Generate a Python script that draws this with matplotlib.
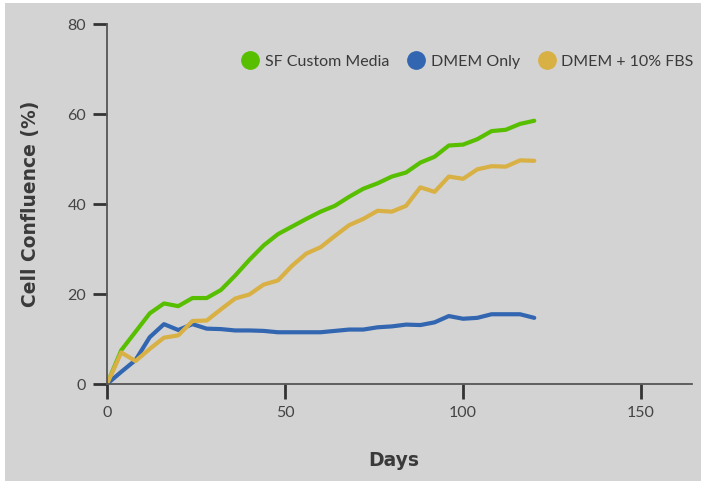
import matplotlib.pyplot as plt
from matplotlib.lines import Line2D
from matplotlib.patches import Rectangle

# Данные
days = list(range(0, 121, 4))
sf_custom = [0, 7.5, 11.6, 15.7, 17.9, 17.3, 19.1, 19.1, 20.9, 24.1, 27.6, 30.8, 33.3, 35.0, 36.7, 38.3,
             39.6, 41.6, 43.4, 44.6, 46.1, 47.0, 49.2, 50.5, 53.0, 53.2, 54.4, 56.2, 56.5, 57.8, 58.5]
dmem_only = [0, 2.7, 5.3, 10.4, 13.3, 12.0, 13.3, 12.3, 12.2, 11.9, 11.9, 11.8, 11.5, 11.5, 11.5, 11.5,
             11.8, 12.1, 12.1, 12.6, 12.8, 13.2, 13.1, 13.7, 15.1, 14.5, 14.7, 15.5, 15.5, 15.5, 14.7]
dmem_fbs = [0, 7.0, 5.1, 7.8, 10.3, 10.8, 14.0, 14.1, 16.6, 19.0, 19.9, 22.1, 23.0, 26.3, 29.0, 30.4,
            32.9, 35.3, 36.7, 38.5, 38.3, 39.6, 43.7, 42.7, 46.1, 45.6, 47.7, 48.4, 48.3, 49.7, 49.6]
labels = ['SF Custom Media', 'DMEM Only', 'DMEM + 10% FBS']
colors = ['#58bf00', '#3366b1', '#d8b044']

plt.rcParams['font.family'] = ['Lato', 'DejaVu Sans']
bg = '#d3d3d3'
txt = '#3a3a3a'

fig = plt.figure(figsize=(7.01, 4.82), dpi=100, facecolor='white')
fig.patches.append(Rectangle((5 / 701, 1 / 482), 1, 478 / 482, transform=fig.transFigure,
                             facecolor=bg, edgecolor='none', zorder=-10))
ax = fig.add_axes([107 / 701, 98 / 482, 585 / 701, 360 / 482])
ax.set_facecolor(bg)

for vals, lab, c in zip([sf_custom, dmem_only, dmem_fbs], labels, colors):
    ax.plot(days, vals, color=c, lw=3, label=lab, solid_capstyle='round', solid_joinstyle='round')

ax.set_xlim(0, 164.3)
ax.set_ylim(0, 80)
ax.set_xticks([0, 50, 100, 150])
ax.set_yticks([0, 20, 40, 60, 80])

for s in ['top', 'right']:
    ax.spines[s].set_visible(False)
for s in ['left', 'bottom']:
    ax.spines[s].set_color('#555555')
    ax.spines[s].set_linewidth(1.3)

ax.tick_params(axis='y', length=10, width=2, color='#333333', pad=5, labelsize=11.5, labelcolor='#444444')
ax.tick_params(axis='x', length=11, width=2, color='#333333', pad=5, labelsize=11.5, labelcolor='#444444')

ax.set_xlabel('Days', fontsize=13.5, fontweight='bold', color=txt, family='DejaVu Sans', va='top')
ax.set_ylabel('Cell Confluence (%)', fontsize=13.5, fontweight='bold', color=txt, family='DejaVu Sans')
ax.xaxis.set_label_coords(0.49, -0.186)
ax.yaxis.set_label_coords(-0.1145, 0.5)

handles = [Line2D([], [], ls='none', marker='o', markersize=12.5, color=c) for c in colors]
ax.legend(handles, labels, loc='upper right', bbox_to_anchor=(1.027, 0.955), ncol=3, frameon=False,
          handlelength=0.8, handletextpad=0.5, columnspacing=1.3, fontsize=11.5, labelcolor=txt)

plt.savefig('out.png', dpi=100, facecolor='white')
